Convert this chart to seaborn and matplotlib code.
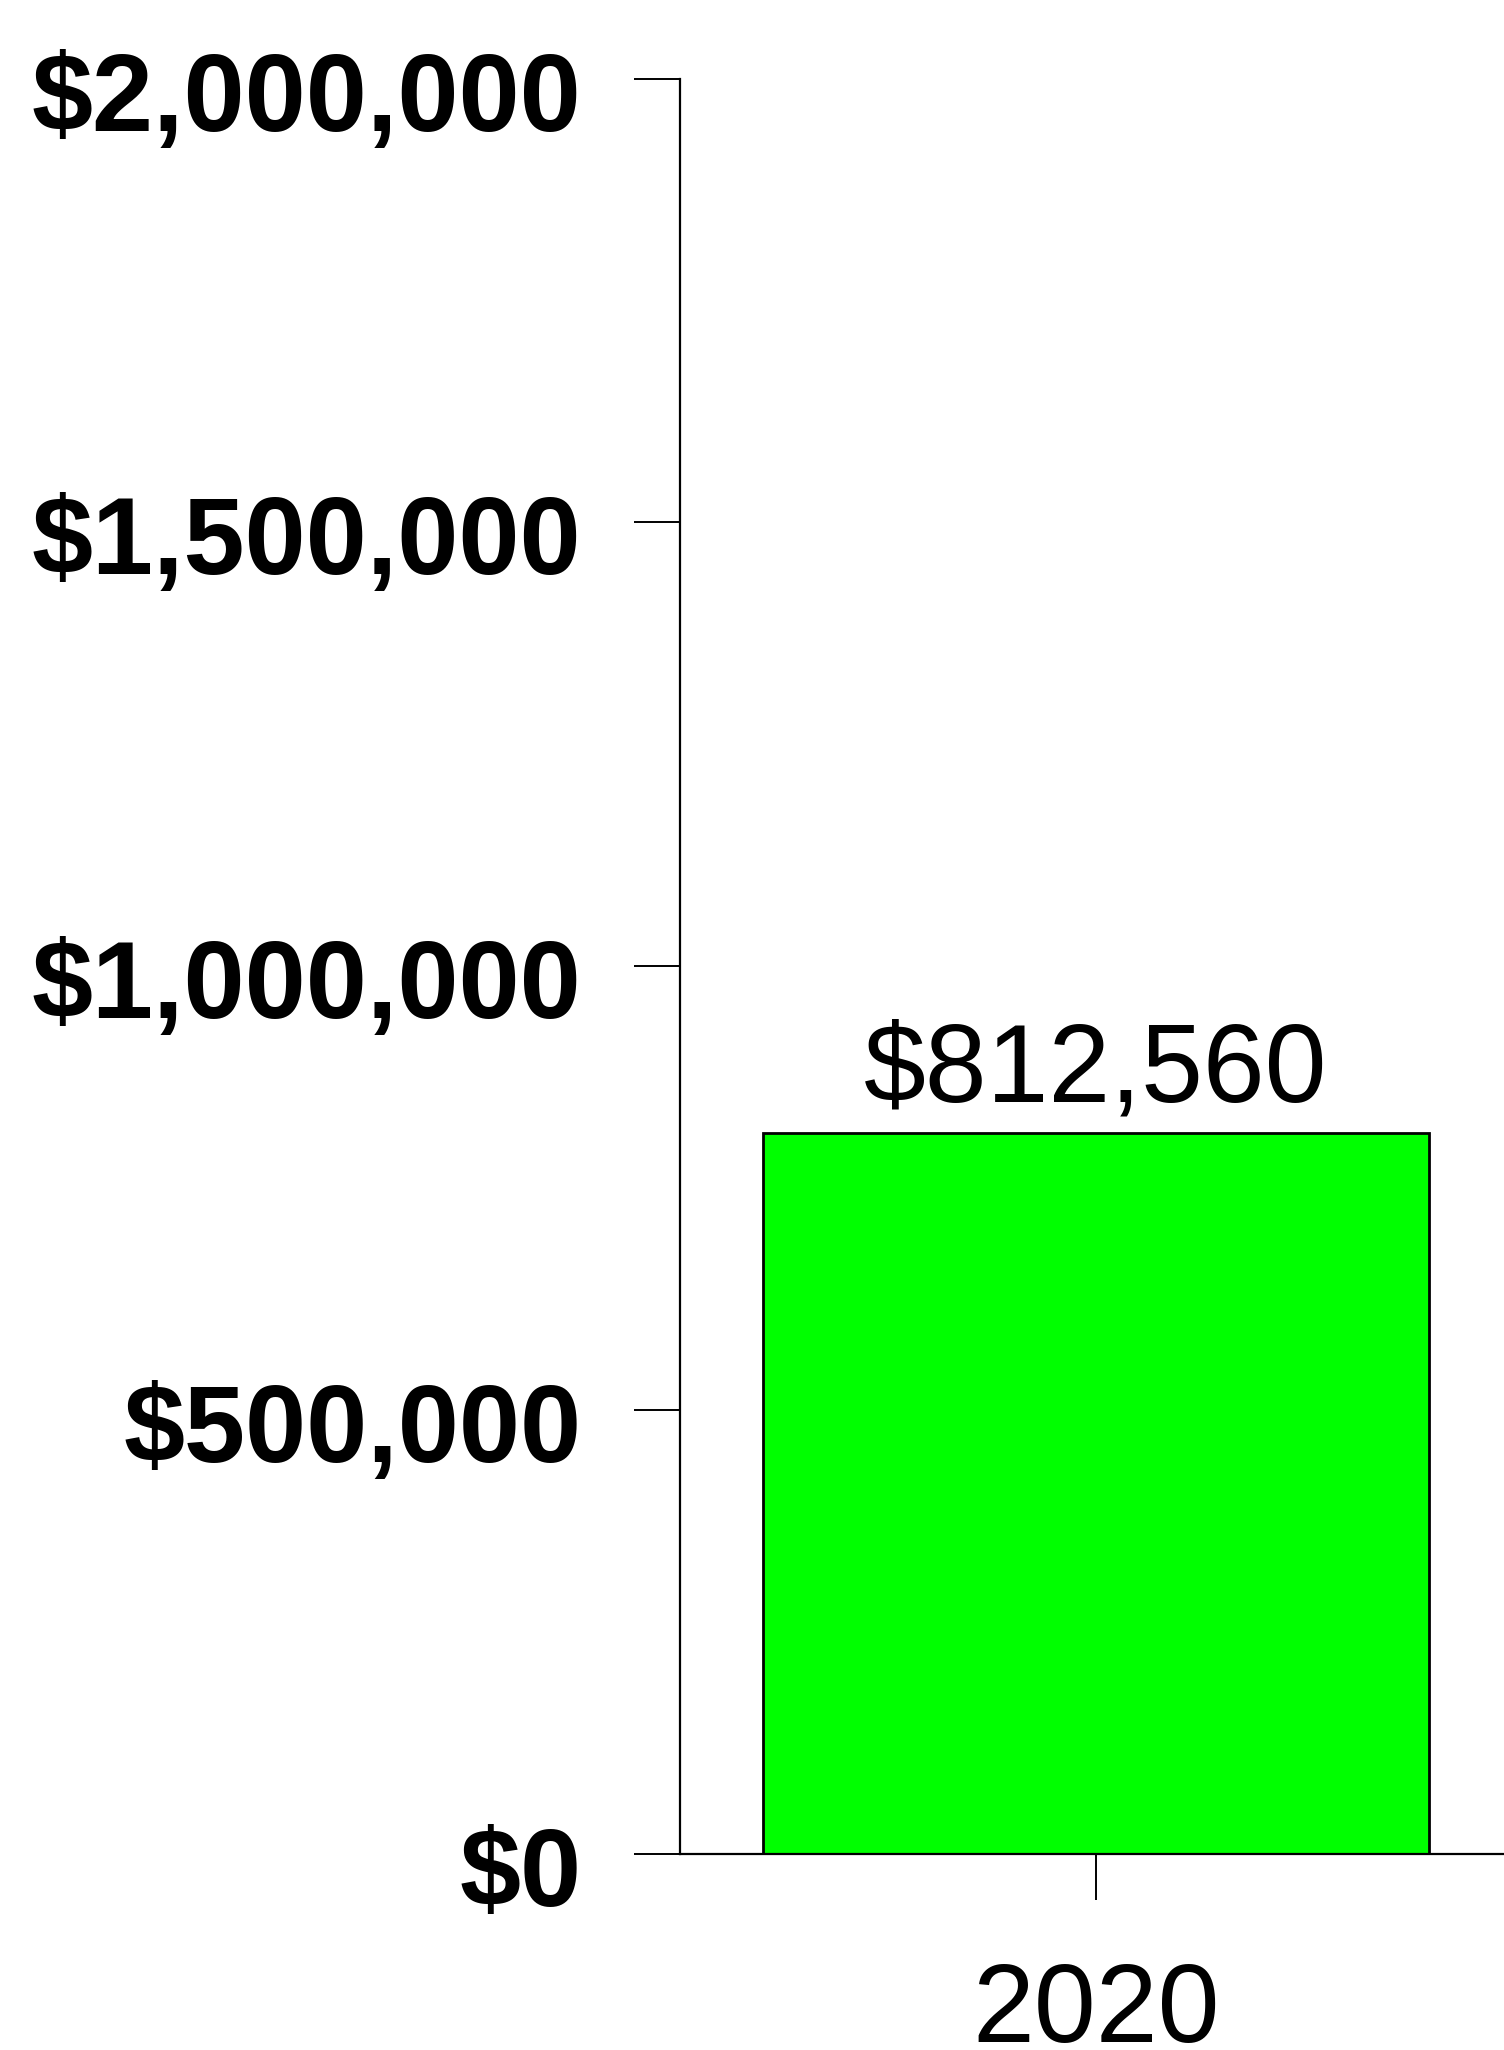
import matplotlib
matplotlib.use("Agg")
import matplotlib.pyplot as plt
import matplotlib.transforms as mtransforms
import seaborn as sns
from matplotlib.ticker import FuncFormatter

years = ["2020"]
totals = [812560]
y_ticks = [0, 500000, 1000000, 1500000, 2000000]

sns.set_style("ticks")
plt.rcParams["font.family"] = ["Liberation Sans", "DejaVu Sans"]

fig = plt.figure(figsize=(15.04, 20.5), dpi=100)
ax = fig.add_axes([0.4521, 0.0954, 0.5532, 0.8663])

sns.barplot(x=years, y=totals, color="#00ff00", edgecolor="black",
            linewidth=2, width=0.8, saturation=1, ax=ax)

ax.set_ylim(0, 2000000)
ax.set_xlim(-0.5, 0.5)
ax.set_yticks(y_ticks)
ax.yaxis.set_major_formatter(FuncFormatter(lambda v, _: f"${v:,.0f}"))

ax.tick_params(axis="y", labelsize=79, length=33, width=1.4, pad=38,
               colors="black", labelcolor="black")
ax.tick_params(axis="x", labelsize=80, length=33, width=1.4, pad=44,
               colors="black", labelcolor="black")

# labels in the reference sit a little below their ticks
shift = mtransforms.ScaledTranslation(0, -9 / 72, fig.dpi_scale_trans)
for tick in ax.yaxis.get_major_ticks():
    tick.label1.set_fontweight("bold")
    tick.label1.set_transform(tick.label1.get_transform() + shift)

ax.bar_label(ax.containers[0], labels=[f"${v:,.0f}" for v in totals],
             fontsize=80, padding=6, color="black")

sns.despine(ax=ax)
for side in ["left", "bottom"]:
    ax.spines[side].set_linewidth(1.6)
    ax.spines[side].set_color("black")
ax.set_xlabel("")
ax.set_ylabel("")

fig.savefig("out.png", dpi=100)
